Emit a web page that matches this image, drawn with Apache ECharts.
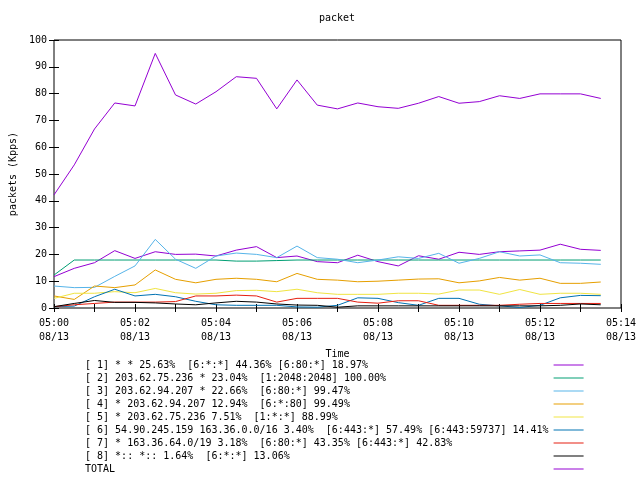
<!DOCTYPE html>
<html>
<head>
<meta charset="utf-8">
<script src="https://cdn.jsdelivr.net/npm/echarts@6.0.0/dist/echarts.min.js"></script>
<style>html,body{margin:0;padding:0;background:#fff}#c{width:640px;height:480px}</style>
</head>
<body>
<div id="c"></div>
<script>
const times = ['05:00:00','05:00:30','05:01:00','05:01:30','05:02:00','05:02:30','05:03:00','05:03:30','05:04:00','05:04:30',
  '05:05:00','05:05:30','05:06:00','05:06:30','05:07:00','05:07:30','05:08:00','05:08:30','05:09:00','05:09:30',
  '05:10:00','05:10:30','05:11:00','05:11:30','05:12:00','05:12:30','05:13:00','05:13:30'];
const xTickLabels = ['05:00','05:02','05:04','05:06','05:08','05:10','05:12','05:14'];
const dateLabel = '08/13';

const names = [
  '[ 1] * * 25.63%  [6:*:*] 44.36% [6:80:*] 18.97%',
  '[ 2] 203.62.75.236 * 23.04%  [1:2048:2048] 100.00%',
  '[ 3] 203.62.94.207 * 22.66%  [6:80:*] 99.47%',
  '[ 4] * 203.62.94.207 12.94%  [6:*:80] 99.49%',
  '[ 5] * 203.62.75.236 7.51%  [1:*:*] 88.99%',
  '[ 6] 54.90.245.159 163.36.0.0/16 3.40%  [6:443:*] 57.49% [6:443:59737] 14.41%',
  '[ 7] * 163.36.64.0/19 3.18%  [6:80:*] 43.35% [6:443:*] 42.83%',
  '[ 8] *:: *:: 1.64%  [6:*:*] 13.06%',
  'TOTAL'
];
const colors = ['#9400d3','#009e73','#56b4e9','#e69f00','#f0e442','#0072b2','#e51e10','#000000','#9400d3'];

const s1 = [11.7,14.8,16.9,21.4,18.5,21.0,20.0,20.1,19.4,21.6,22.9,18.8,19.4,17.3,16.9,19.7,17.3,15.7,19.5,18.2,20.8,20.0,21.0,21.3,21.6,23.8,21.9,21.5];
const s2 = [12.3,17.9,17.9,17.9,17.9,17.9,17.9,17.9,17.9,17.5,17.5,17.7,17.9,17.9,17.9,17.9,17.9,17.9,17.9,17.9,17.9,17.9,17.9,17.9,17.9,17.9,17.9,17.9];
const s3 = [8.2,7.6,7.7,11.8,15.7,25.6,18.2,14.8,19.4,20.5,20.0,18.8,23.1,18.8,18.2,16.9,17.9,19.1,18.5,20.4,16.7,18.5,21.0,19.4,19.8,16.9,16.7,16.3];
const s4 = [4.5,3.2,8.2,7.6,8.6,14.2,10.7,9.4,10.7,11.1,10.7,9.8,12.9,10.7,10.4,9.8,10.0,10.4,10.8,10.9,9.4,10.1,11.4,10.4,11.1,9.2,9.2,9.7];
const s5 = [3.6,5.5,5.5,6.1,5.7,7.3,5.7,5.2,5.5,6.5,6.6,6.1,7.0,5.7,5.1,5.1,5.1,5.5,5.5,5.2,6.7,6.7,5.1,6.9,5.1,5.5,5.5,5.1];
const s6 = [0.5,0.7,4.2,7.0,4.5,5.1,4.2,2.5,1.2,1.0,1.0,1.0,0.4,0.3,1.0,3.8,3.6,2.0,1.0,3.6,3.6,1.4,0.8,0.2,1.0,3.8,4.7,4.6];
const s7 = [0.5,1.2,1.7,2.2,2.2,2.2,2.4,4.5,4.5,4.8,4.5,2.2,3.6,3.6,3.6,2.2,1.8,2.7,2.7,1.0,1.0,1.0,1.0,1.4,1.7,1.7,1.7,1.7];
const s8 = [0.5,1.7,2.8,2.1,2.1,1.9,1.5,1.2,1.9,2.5,2.2,1.5,1.1,1.0,0.3,0.8,0.8,0.8,0.8,0.8,0.8,0.8,0.8,0.8,0.8,1.0,1.5,1.2];
const total = [42.2,53.4,66.8,76.5,75.4,95.0,79.5,76.1,80.7,86.3,85.7,74.3,85.1,75.7,74.3,76.5,75.1,74.5,76.4,78.9,76.4,77.0,79.2,78.2,79.9,79.9,79.9,78.2];

const seriesValues = [s1,s2,s3,s4,s5,s6,s7,s8,total];

function toMin(t){const p=t.split(':').map(Number);return (p[0]-5)*60+p[1]+p[2]/60;}
const xs = times.map(toMin);

const FONT = 'DejaVu Sans Mono';
const tickStyle = {color:'#000', width:1};

const chart = echarts.init(document.getElementById('c'), null, {renderer:'canvas'});
chart.setOption({
  animation:false,
  backgroundColor:'#fff',
  textStyle:{fontFamily:FONT},
  title:{text:'packet', left:319, top:13, padding:0,
    textStyle:{fontFamily:FONT, fontSize:10, fontWeight:'normal', color:'#000'}},
  grid:{left:52, right:19, top:40, bottom:172, show:true, borderColor:'#000', borderWidth:1, containLabel:false},
  legend:{
    orient:'vertical', left:85, top:358.5, padding:0, itemGap:0, align:'right',
    itemWidth:30, itemHeight:1, icon:'rect',
    data:names,
    formatter: n => n.padEnd(77, ' '),
    textStyle:{fontFamily:FONT, fontSize:10, color:'#000', lineHeight:13}
  },
  xAxis:[
    {type:'value', min:0, max:14, interval:2, position:'bottom',
     axisLine:{show:false}, splitLine:{show:false},
     axisTick:{show:true, inside:true, length:4, lineStyle:tickStyle},
     minorTick:{show:true, splitNumber:2, length:4, lineStyle:tickStyle},
     axisLabel:{color:'#000', fontFamily:FONT, fontSize:10, lineHeight:14, margin:8,
       formatter: v => xTickLabels[Math.round(v/2)] + '\n' + dateLabel},
     name:'Time', nameLocation:'middle', nameGap:41,
     nameTextStyle:{color:'#000', fontFamily:FONT, fontSize:10}},
    {type:'value', min:0, max:14, interval:2, position:'top',
     axisLine:{show:false}, splitLine:{show:false},
     axisTick:{show:true, inside:true, length:4, lineStyle:tickStyle},
     minorTick:{show:true, splitNumber:2, length:4, lineStyle:tickStyle},
     axisLabel:{show:false}}
  ],
  yAxis:[
    {type:'value', min:0, max:100, interval:10, position:'left',
     axisLine:{show:false}, splitLine:{show:false},
     axisTick:{show:true, inside:true, length:5, lineStyle:tickStyle},
     axisLabel:{color:'#000', fontFamily:FONT, fontSize:10, margin:7},
     name:'packets (Kpps)', nameLocation:'middle', nameGap:36, nameRotate:90,
     nameTextStyle:{color:'#000', fontFamily:FONT, fontSize:10}},
    {type:'value', min:0, max:100, interval:10, position:'right',
     axisLine:{show:false}, splitLine:{show:false},
     axisTick:{show:true, inside:true, length:5, lineStyle:tickStyle},
     axisLabel:{show:false}}
  ],
  series: seriesValues.map((vals,i)=>({
    name:names[i], type:'line', xAxisIndex:0, yAxisIndex:0,
    data: vals.map((v,j)=>[xs[j], v]),
    symbol:'none', lineStyle:{width:1, color:colors[i]}, itemStyle:{color:colors[i]},
    silent:true
  }))
});
</script>
</body>
</html>
